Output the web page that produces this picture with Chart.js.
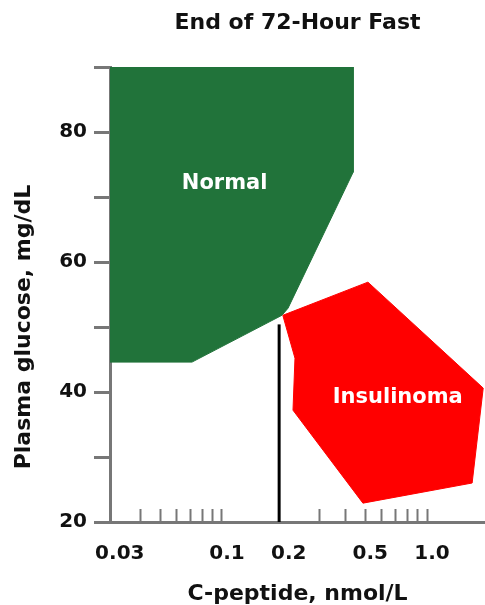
<!DOCTYPE html>
<html>
<head>
<meta charset="utf-8">
<title>End of 72-Hour Fast</title>
<script src="https://cdn.jsdelivr.net/npm/chart.js@4.4.1/dist/chart.umd.min.js"></script>
<style>
    html, body { margin: 0; padding: 0; background: #fff; }
    #wrap { width: 485px; height: 605px; }
</style>
</head>
<body>
<div id="wrap"><canvas id="fastChart"></canvas></div>
<script>
// Region outlines, C-peptide (nmol/L) against plasma glucose (mg/dL)
const normalCpeptide = [0.02843, 0.436, 0.436, 0.210, 0.196, 0.0714, 0.02843, 0.02843];
const normalGlucose = [90, 90, 73.8, 52.9, 51.8, 44.6, 44.6, 90];

const insulinomaCpeptide = [0.198, 0.515, 1.88, 1.66, 0.487, 0.222, 0.227, 0.198];
const insulinomaGlucose = [51.8, 56.9, 40.6, 26, 22.9, 37.2, 45.2, 51.8];

// Vertical cut-off line
const cutoffCpeptide = [0.19, 0.19];
const cutoffGlucose = [20, 50.4];

// Region names and where they sit
const regionNames = ['Normal', 'Insulinoma'];
const regionLabelX = [0.103, 0.72];
const regionLabelY = [72, 39.1];

// Axis ticks
const xTickValues = [0.03, 0.04, 0.05, 0.06, 0.07, 0.08, 0.09, 0.1, 0.2, 0.3, 0.4, 0.5, 0.6, 0.7, 0.8, 0.9, 1.0];
const xUnmarked = [0.03, 0.2];   // labelled but no little tick mark
const xLabelValues = [0.03, 0.1, 0.2, 0.5, 1.0];
const xLabelTexts = ['0.03', '0.1', '0.2', '0.5', '1.0'];
const yTickValues = [20, 30, 40, 50, 60, 70, 80, 90];
const yTickLabels = ['20', '', '40', '', '60', '', '80', ''];

const AXIS_GREY = '#777777';
const FONT = 'DejaVu Sans';

function toPoints(xs, ys) {
    return xs.map((x, i) => ({ x: x, y: ys[i] }));
}

// White region names plus the rotated y axis title
const chartText = {
    id: 'chartText',
    afterDatasetsDraw(chart) {
        const { ctx, scales: { x, y } } = chart;
        ctx.save();
        ctx.font = `bold 21px "${FONT}"`;
        ctx.fillStyle = '#ffffff';
        ctx.textAlign = 'center';
        ctx.textBaseline = 'middle';
        regionNames.forEach((name, i) => {
            ctx.fillText(name, x.getPixelForValue(regionLabelX[i]), y.getPixelForValue(regionLabelY[i]));
        });
        ctx.restore();
    },
    afterDraw(chart) {
        const { ctx, chartArea } = chart;
        ctx.save();
        ctx.translate(24, chartArea.bottom - 195);
        ctx.rotate(-Math.PI / 2);
        ctx.font = `bold 22px "${FONT}"`;
        ctx.fillStyle = '#111111';
        ctx.textAlign = 'center';
        ctx.textBaseline = 'middle';
        ctx.fillText('Plasma glucose, mg/dL', 0, 0);
        ctx.restore();
    }
};

const ctx = document.getElementById('fastChart').getContext('2d');
new Chart(ctx, {
    type: 'scatter',
    data: {
        datasets: [
            {
                label: 'Normal',
                data: toPoints(normalCpeptide, normalGlucose),
                showLine: true,
                fill: 'shape',
                backgroundColor: '#21733a',
                borderColor: '#21733a',
                borderWidth: 1,
                pointRadius: 0,
                tension: 0
            },
            {
                label: 'Insulinoma',
                data: toPoints(insulinomaCpeptide, insulinomaGlucose),
                showLine: true,
                fill: 'shape',
                backgroundColor: '#ff0000',
                borderColor: '#ff0000',
                borderWidth: 1,
                pointRadius: 0,
                tension: 0
            },
            {
                label: 'Cut-off',
                data: toPoints(cutoffCpeptide, cutoffGlucose),
                showLine: true,
                fill: false,
                borderColor: '#000000',
                borderWidth: 3,
                pointRadius: 0
            }
        ]
    },
    options: {
        responsive: true,
        maintainAspectRatio: false,
        animation: false,
        layout: {
            padding: 0
        },
        plugins: {
            legend: { display: false },
            tooltip: { enabled: false },
            title: {
                display: true,
                fullSize: false,
                text: 'End of 72-Hour Fast',
                color: '#111111',
                font: { family: FONT, size: 22, weight: 'bold', lineHeight: 1.2 },
                padding: { top: 10, bottom: 30.6 }
            }
        },
        scales: {
            x: {
                type: 'logarithmic',
                min: 0.02843,
                max: 1.918,
                z: 1,
                afterBuildTicks: scale => {
                    scale.ticks = xTickValues.map(v => ({ value: v }));
                },
                afterFit: scale => {
                    scale.height = 83;
                },
                ticks: {
                    autoSkip: false,
                    maxRotation: 0,
                    padding: 33,
                    labelOffset: 5,
                    color: '#111111',
                    font: { family: FONT, size: 20, weight: 'bold' },
                    callback: value => {
                        const i = xLabelValues.indexOf(value);
                        return i >= 0 ? xLabelTexts[i] : '';
                    }
                },
                grid: {
                    drawOnChartArea: false,
                    drawTicks: true,
                    tickLength: -13,
                    tickWidth: 2,
                    tickColor: c => (c.tick && xUnmarked.includes(c.tick.value)) ? 'rgba(0,0,0,0)' : AXIS_GREY
                },
                border: { display: true, color: AXIS_GREY, width: 3 },
                title: {
                    display: true,
                    text: 'C-peptide, nmol/L',
                    color: '#111111',
                    font: { family: FONT, size: 22, weight: 'bold', lineHeight: 1 },
                    padding: { top: 0, bottom: 0 }
                }
            },
            y: {
                type: 'linear',
                min: 20,
                max: 90,
                z: 1,
                afterBuildTicks: scale => {
                    scale.ticks = yTickValues.map(v => ({ value: v }));
                },
                afterFit: scale => {
                    scale.width = 110;
                },
                ticks: {
                    padding: 7,
                    color: '#111111',
                    font: { family: FONT, size: 20, weight: 'bold' },
                    callback: value => yTickLabels[yTickValues.indexOf(value)]
                },
                grid: {
                    drawOnChartArea: false,
                    drawTicks: true,
                    tickLength: 16,
                    tickWidth: 3,
                    tickColor: AXIS_GREY
                },
                border: { display: true, color: AXIS_GREY, width: 3 }
            }
        }
    },
    plugins: [chartText]
});
</script>
</body>
</html>
